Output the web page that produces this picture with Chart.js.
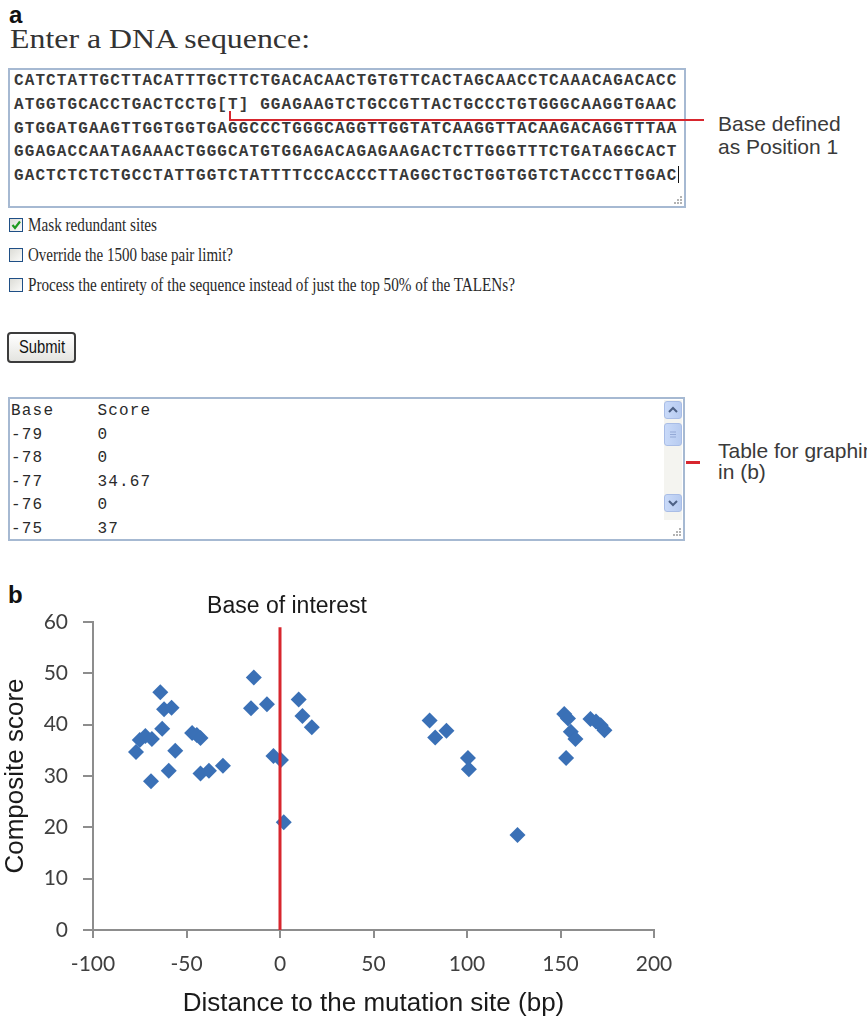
<!DOCTYPE html>
<html>
<head>
<meta charset="utf-8">
<script src="https://cdn.jsdelivr.net/npm/chart.js@4.4.1/dist/chart.umd.min.js"></script>
<style>
    html, body { margin: 0; padding: 0; background: #fff; }
    body { width: 867px; height: 1019px; position: relative; overflow: hidden;
           font-family: "Liberation Sans", Arial, sans-serif; color: #222; }
    .abs { position: absolute; white-space: pre; transform-origin: 0 50%; }
    .panel-lbl { font-weight: bold; font-size: 24px; line-height: 24px; color: #111; }
    .serif { font-family: "Liberation Serif", "Times New Roman", serif; color: #2a2a2a; }
    .box { position: absolute; box-sizing: border-box; border: 2px solid #a6b9d2; background: #fff; }
    .seq { font-family: "Liberation Mono", "Courier New", monospace; font-weight: bold; font-size: 16px;
           letter-spacing: 1.1px; line-height: 23.8px; color: #383838; }
    .out { font-family: "Liberation Mono", "Courier New", monospace; font-size: 16px;
           letter-spacing: 1.2px; line-height: 23.6px; color: #2a2a2a; }
    .cursor { display: inline-block; width: 0; height: 17px; border-left: 1px solid #111; vertical-align: -3px; }
    .callout { font-size: 21px; line-height: 23px; color: #3a3a3a; }
    .red { position: absolute; background: #d7262e; }
    .chk { position: absolute; box-sizing: border-box; width: 14px; height: 14px; left: 9px;
           border: 1px solid #1f4f86; background: linear-gradient(135deg, #dcdcd6, #fbfbf9); }
    .opt { font-size: 19px; line-height: 20px; left: 28px; }
    .btn { position: absolute; left: 7px; top: 332px; width: 69px; height: 31px; box-sizing: border-box;
           border: 2px solid #3c3c3c; border-radius: 4px; background: linear-gradient(#ffffff, #e4e4e0); }
    .sb { position: absolute; box-sizing: border-box; border: 1px solid #a9bde6; border-radius: 3px;
          background: linear-gradient(90deg, #c9daf9, #b7cbf0); }
    #scoreChart { position: absolute; left: 0; top: 575px; }
</style>
</head>
<body>

<div class="abs panel-lbl" style="left:9px; top:3px;">a</div>
<div class="abs serif" data-w="300" style="left:10px; top:24px; font-size:28px; line-height:30px; color:#333;">Enter a DNA sequence:</div>

<!-- sequence input -->
<div class="box" style="left:8px; top:68px; width:678px; height:140px;"></div>
<div class="abs seq" id="seq-text" style="left:14px; top:70px;"></div>
<svg class="abs" style="left:673px; top:195px;" width="10" height="10">
    <g fill="#9a9a9a"><circle cx="8" cy="2" r="1"/><circle cx="5" cy="5" r="1"/><circle cx="8" cy="5" r="1"/>
    <circle cx="2" cy="8" r="1"/><circle cx="5" cy="8" r="1"/><circle cx="8" cy="8" r="1"/></g>
</svg>
<div class="red" style="left:229px; top:111px; width:2px; height:10px;"></div>
<div class="red" style="left:229px; top:119px; width:475px; height:2px;"></div>
<div class="abs callout" style="left:718px; top:112px;">Base defined</div>
<div class="abs callout" style="left:718px; top:135px;">as Position 1</div>

<!-- options -->
<div class="chk" style="top:218px;">
    <svg width="12" height="12" style="position:absolute;left:0;top:0"><polyline points="2.5,6 5,9 10,2.5" fill="none" stroke="#1f9a1f" stroke-width="2.2"/></svg>
</div>
<div class="chk" style="top:248px;"></div>
<div class="chk" style="top:278px;"></div>
<div class="abs serif opt" data-w="129" style="top:215px;">Mask redundant sites</div>
<div class="abs serif opt" data-w="205" style="top:245px;">Override the 1500 base pair limit?</div>
<div class="abs serif opt" data-w="487" style="top:275px;">Process the entirety of the sequence instead of just the top 50% of the TALENs?</div>

<div class="btn"></div>
<div class="abs" data-w="46" style="left:19px; top:337px; font-size:18px; line-height:21px; color:#111;">Submit</div>

<!-- output table -->
<div class="box" style="left:8px; top:397px; width:677px; height:144px;"></div>
<div class="abs out" id="out-text" style="left:11px; top:400px;"></div>
<div class="abs" style="left:664px; top:400px; width:18px; height:120px; background:#f4f4f0;"></div>
<div class="sb" style="left:664px; top:401px; width:18px; height:18px;">
    <svg width="16" height="16"><polyline points="4,10 8,6 12,10" fill="none" stroke="#4d6185" stroke-width="2"/></svg>
</div>
<div class="sb" style="left:664px; top:423px; width:18px; height:23px;">
    <svg width="16" height="21"><g stroke="#94a9d6" stroke-width="1"><line x1="5" y1="8" x2="11" y2="8"/><line x1="5" y1="10.5" x2="11" y2="10.5"/><line x1="5" y1="13" x2="11" y2="13"/></g></svg>
</div>
<div class="sb" style="left:664px; top:494px; width:18px; height:18px;">
    <svg width="16" height="16"><polyline points="4,6 8,10 12,6" fill="none" stroke="#4d6185" stroke-width="2"/></svg>
</div>
<svg class="abs" style="left:672px; top:527px;" width="10" height="10">
    <g fill="#9a9a9a"><circle cx="8" cy="2" r="1"/><circle cx="5" cy="5" r="1"/><circle cx="8" cy="5" r="1"/>
    <circle cx="2" cy="8" r="1"/><circle cx="5" cy="8" r="1"/><circle cx="8" cy="8" r="1"/></g>
</svg>
<div class="red" style="left:686px; top:461px; width:14px; height:3px;"></div>
<div class="abs callout" style="left:718px; top:439px;">Table for graphing</div>
<div class="abs callout" style="left:718px; top:460px;">in (b)</div>

<!-- panel b -->
<div class="abs panel-lbl" style="left:8px; top:583px;">b</div>
<canvas id="scoreChart" width="867" height="444"></canvas>

<script>
// --- DATA ---
const sequenceLines = [
    'CATCTATTGCTTACATTTGCTTCTGACACAACTGTGTTCACTAGCAACCTCAAACAGACACC',
    'ATGGTGCACCTGACTCCTG[T] GGAGAAGTCTGCCGTTACTGCCCTGTGGGCAAGGTGAAC',
    'GTGGATGAAGTTGGTGGTGAGGCCCTGGGCAGGTTGGTATCAAGGTTACAAGACAGGTTTAA',
    'GGAGACCAATAGAAACTGGGCATGTGGAGACAGAGAAGACTCTTGGGTTTCTGATAGGCACT',
    'GACTCTCTCTGCCTATTGGTCTATTTTCCCACCCTTAGGCTGCTGGTGGTCTACCCTTGGAC'
];

const tableBases = [-79, -78, -77, -76, -75];
const tableScores = ['0', '0', '34.67', '0', '37'];

// distance to the mutation site (bp) / composite score
const distances = [-77, -75, -72, -68.5, -69, -64, -62, -58, -63, -56, -59.5,
    -47, -44.5, -42.5, -42.5, -38, -30.5, -15.5, -14, -7, -3.5, 0.5, 2,
    10, 12, 17, 80, 83, 89, 100.5, 101, 127,
    152, 154, 155.5, 158, 153, 166, 169, 171.5, 173.5];
const scores = [34.67, 37, 37.8, 37.2, 29, 46.3, 43, 43.3, 39.2, 34.9, 31,
    38.4, 38, 37.4, 30.5, 31, 32, 43.2, 49.2, 44, 33.9, 33.1, 21,
    44.9, 41.7, 39.5, 40.8, 37.5, 38.8, 33.5, 31.3, 18.5,
    42.1, 41.2, 38.6, 37.2, 33.5, 41.1, 40.6, 39.9, 38.9];

// red "base of interest" line
const markerX = [0, 0];
const markerY = [0, 59];

const xTicks = [-100, -50, 0, 50, 100, 150, 200];
const yTicks = [0, 10, 20, 30, 40, 50, 60];

// --- PANEL A TEXT ---
document.getElementById('seq-text').innerHTML =
    sequenceLines.join('\n') + '<span class="cursor"></span>';

document.getElementById('out-text').textContent =
    ['Base    Score'].concat(tableBases.map((b, i) => String(b).padEnd(8) + tableScores[i])).join('\n');

document.querySelectorAll('[data-w]').forEach(el => {
    const w = el.getBoundingClientRect().width;
    if (w > 0) el.style.transform = 'scaleX(' + (el.dataset.w / w) + ')';
});

// --- CHART ---
const AXIS_GREY = '#8d8d8d';

const interestLabel = {
    id: 'interestLabel',
    afterDraw(chart) {
        const { ctx, chartArea, scales } = chart;
        ctx.save();
        ctx.font = '23px "Liberation Sans", Arial, sans-serif';
        ctx.fillStyle = '#1a1a1a';
        ctx.textAlign = 'center';
        ctx.textBaseline = 'alphabetic';
        ctx.fillText('Base of interest', scales.x.getPixelForValue(0) + 7, chartArea.top - 9);
        ctx.restore();
    }
};

new Chart(document.getElementById('scoreChart').getContext('2d'), {
    type: 'scatter',
    data: {
        datasets: [
            {
                data: markerX.map((x, i) => ({ x, y: markerY[i] })),
                showLine: true, borderColor: '#d7262e', borderWidth: 3, pointRadius: 0
            },
            {
                data: distances.map((x, i) => ({ x, y: scores[i] })),
                pointStyle: 'rectRot', pointRadius: 8,
                pointBackgroundColor: '#3a70b6', pointBorderColor: '#3a70b6', pointBorderWidth: 0
            }
        ]
    },
    options: {
        responsive: false,
        animation: false,
        layout: { padding: { left: 0, right: 213, top: 47, bottom: 0 } },
        plugins: { legend: { display: false }, tooltip: { enabled: false } },
        scales: {
            x: {
                type: 'linear', min: xTicks[0], max: xTicks[xTicks.length - 1],
                afterBuildTicks: s => { s.ticks = xTicks.map(v => ({ value: v })); },
                afterFit: s => { s.height = 89; },
                grid: { drawOnChartArea: false, tickLength: 8, color: AXIS_GREY, lineWidth: 2 },
                border: { color: AXIS_GREY, width: 2 },
                ticks: { font: { family: 'Lato', size: 21 }, color: '#3f3f3f', padding: 14 },
                title: { display: true, text: 'Distance to the mutation site (bp)', color: '#1a1a1a',
                         font: { family: '"Liberation Sans", Arial', size: 26 }, padding: { top: 0, bottom: 0 } }
            },
            y: {
                type: 'linear', min: yTicks[0], max: yTicks[yTicks.length - 1],
                afterBuildTicks: s => { s.ticks = yTicks.map(v => ({ value: v })); },
                afterFit: s => { s.width = 93; },
                grid: { drawOnChartArea: false, tickLength: 10, color: AXIS_GREY, lineWidth: 2 },
                border: { color: AXIS_GREY, width: 2 },
                ticks: { font: { family: 'Lato', size: 21 }, color: '#3f3f3f', padding: 15 },
                title: { display: true, text: 'Composite score', color: '#1a1a1a',
                         font: { family: '"Liberation Sans", Arial', size: 26 }, padding: { top: 0, bottom: 0 } }
            }
        }
    },
    plugins: [interestLabel]
});
</script>
</body>
</html>
